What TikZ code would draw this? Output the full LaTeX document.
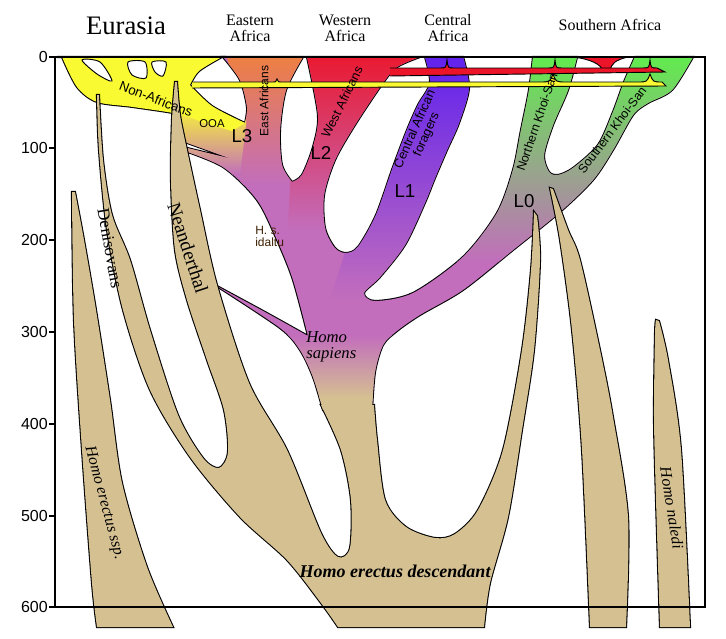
\documentclass[tikz,border=0pt]{standalone}
\usepackage{fontspec}
\setmainfont{Liberation Serif}
\setsansfont{Liberation Sans}
\definecolor{pur}{RGB}{194,110,188}
\definecolor{tanc}{RGB}{213,192,146}
\definecolor{yell}{RGB}{250,250,50}
\definecolor{orng}{RGB}{240,128,60}
\definecolor{redc}{RGB}{236,20,40}
\definecolor{blu}{RGB}{92,30,240}
\definecolor{grn}{RGB}{90,245,70}
\definecolor{idal}{RGB}{60,30,0}
\newcommand\txtsize[1]{\fontsize{#1}{#1}\selectfont}
% outlines of the populations (pixel grid, y downwards)
\def\africa{(223,57) -- (303,57)
 -- plot[smooth] coordinates {(303,57) (286,90) (280,130) (282,165) (292,182)}
 -- plot[smooth] coordinates {(292,182) (302,175) (313,147) (318,115) (307,57)}
 -- (420,57)
 -- plot[smooth] coordinates {(420,57) (397,67) (383,83) (355,125) (335,160) (324,195) (325,228) (335,248) (346,253) (358,247) (376,215) (393,167) (407,130) (418,105) (430,83) (425,57)}
 -- (463,57)
 -- plot[smooth] coordinates {(463,57) (469,88) (459,123) (447,150) (435,178) (424,205) (405,245) (380,277) (364,293) (375,301) (413,293) (463,257) (497,213) (513,170) (521,130) (529,90) (533,57)}
 -- (577,57)
 -- plot[smooth] coordinates {(577,57) (568,90) (553,125) (544,155) (549,172) (558,175) (573,168) (598,145) (613,112) (624,82) (635,57)}
 -- (693,57)
 -- plot[smooth] coordinates {(693,57) (672,90) (648,103) (633,115) (613,150) (593,180) (560,212) (513,250) (463,290) (420,315) (397,331) (383,345) (375,372) (372,410)}
 -- (323,410)
 -- plot[smooth] coordinates {(323,410) (313,377) (300,350) (280,328) (215,285)}
 -- plot[smooth] coordinates {(215,285) (265,312) (308,336)}
 -- plot[smooth] coordinates {(308,336) (293,280) (277,240) (257,200) (223,167) (179,149)}
 -- (179,146) -- (232,159) -- (179,140) -- (179,112) -- (215,114) -- (245,123)
 -- plot[smooth] coordinates {(245,123) (247,107) (240,80) (223,57)}
 -- cycle}
\def\nonafr{(57,57) -- (222,57)
 -- plot[smooth] coordinates {(222,57) (199,71) (190,85)}
 -- plot[smooth] coordinates {(190,85) (212,106) (245,123)}
 -- (232,131)
 -- plot[smooth] coordinates {(205,123) (178,114) (133,107) (97,102) (77,87) (62,57)}
 -- cycle}
\def\hedesc{(338,627)
 -- plot[smooth] coordinates {(338,627) (321,603) (287,560) (240,517) (190,457) (150,390) (123,310) (107,230) (99,150) (97,95)}
 -- plot[smooth] coordinates {(99,95) (103,160) (112,215) (130,260) (150,330) (178,415) (203,458) (219,468) (228,452) (224,410) (207,360) (187,300) (175,250) (171,180) (172,120) (175,82)}
 -- plot[smooth] coordinates {(177,82) (180,115) (187,150) (200,210) (217,285) (249,383) (287,450) (321,533) (338,557) (350,548) (351,500) (341,450) (321,405)}
 -- plot[smooth] coordinates {(374,405) (377,440) (385,500) (406,527) (435,538) (455,534) (478,510) (503,450) (522,350) (531,270) (534,212)}
 -- plot[smooth] coordinates {(537,216) (540,260) (534,350) (522,430) (508,517) (490,583) (484,627)}
 -- cycle}
\def\hessp{(97,627) -- plot[smooth] coordinates {(97,627) (92,583) (82,450) (74,320) (72,192)}
 -- plot[smooth] coordinates {(75,192) (84,240) (96,310) (110,400) (122,483) (147,567) (173,627)} -- cycle}
\def\southsp{(590,627) -- plot[smooth] coordinates {(590,627) (582,450) (572,330) (560,240) (550,188)}
 -- plot[smooth] coordinates {(553,189) (568,230) (580,260) (600,350) (613,417) (628,517) (626,627)} -- cycle}
\def\naledi{(660,627) -- plot[smooth] coordinates {(660,627) (656,500) (654,417) (655,335) (656,320)}
 -- plot[smooth] coordinates {(659,321) (668,360) (681,450) (690,627)} -- cycle}
\begin{document}
\begin{tikzpicture}[x=0.75pt,y=-0.75pt]
	\tikzstyle{outl} = [draw=black, line width=1.6pt]
	\tikzstyle{thin} = [draw=black, line width=0.7pt]
	\tikzstyle{sans} = [font=\sffamily, inner sep=0]
	\tikzstyle{serif} = [font=\rmfamily, inner sep=0]
	\useasboundingbox (0,0) rectangle (726,639);
% Africa and Eurasia
\path [outl] \africa;
\path [outl] \nonafr;
\begin{scope}
\clip \africa;
\fill [pur] (0,0) rectangle (726,450);
\shade [top color=orng, bottom color=pur] (225,50) -- (305,50) -- (290,185) -- (240,185) -- (245,125) -- cycle;
\shade [top color=yell, bottom color=pur] (170,105) -- (246,105) -- (246,125) -- (240,175) -- (170,175) -- cycle;
\shade [top color=redc, bottom color=pur] (305,45) -- (432,45) -- (405,80) -- (362,140) -- (352,230) -- (288,230) -- (290,185) -- cycle;
\shade [top color=blu, bottom color=pur] (432,45) -- (500,45) -- (490,150) -- (440,250) -- (385,300) -- (330,300) -- (352,230) -- (362,140) -- (405,80) -- cycle;
\shade [top color=grn, bottom color=pur] (500,40) -- (720,40) -- (720,262) -- (430,262) -- (440,250) -- (490,150) -- cycle;
\shade [top color=pur, bottom color=tanc] (280,335) rectangle (400,398);
\end{scope}
\fill [yell] \nonafr;
\path [thin, fill=white] plot[smooth cycle] coordinates {(82,60) (100,62) (112,81) (97,74)};
\path [thin, fill=white] plot[smooth cycle] coordinates {(128,62) (145,62) (146,78) (132,75)};
\path [thin, fill=white] plot[smooth cycle] coordinates {(152,62) (166,62) (163,76) (155,72)};
% migrations
\path [thin, fill=redc] (573,57) -- (628,57) .. controls (615,60) and (611,64) .. (610,71) -- (603,71) .. controls (601,64) and (590,59) .. (573,57) -- cycle;
\fill [redc] (390,68) -- (440,68) .. controls (446,68) .. (447,60) .. controls (448,68) .. (454,68) -- (548,68) .. controls (554,68) .. (555,60) .. controls (556,68) .. (562,68) -- (643,68) .. controls (649,68) .. (650,60) .. controls (651,68) .. (657,68) -- (665,72) -- (390,76) -- cycle;
\draw [thin] (390,68) -- (440,68) .. controls (446,68) .. (447,60) .. controls (448,68) .. (454,68) -- (548,68) .. controls (554,68) .. (555,60) .. controls (556,68) .. (562,68) -- (643,68) .. controls (649,68) .. (650,60) .. controls (651,68) .. (657,68) -- (665,72) -- (390,76);
\fill [yell] (192,82) -- (272,82) .. controls (276,82) .. (277,79) .. controls (278,82) .. (282,82) -- (540,82) .. controls (550,82) .. (553,74) .. controls (556,82) .. (566,82) -- (638,82) .. controls (647,82) .. (650,74) .. controls (653,82) .. (662,82) -- (666,86) -- (192,88) -- cycle;
\draw [thin] (192,82) -- (272,82) .. controls (276,82) .. (277,79) .. controls (278,82) .. (282,82) -- (540,82) .. controls (550,82) .. (553,74) .. controls (556,82) .. (566,82) -- (638,82) .. controls (647,82) .. (650,74) .. controls (653,82) .. (662,82) -- (666,86) -- (192,88);
% archaic lineages
\path [outl] \hedesc;
\path [outl] \hessp;
\path [outl] \southsp;
\path [outl] \naledi;
\fill [tanc] \hedesc;
\fill [tanc] \hessp;
\fill [tanc] \southsp;
\fill [tanc] \naledi;
\begin{scope}
\clip \africa;
\fill [tanc] (300,396) rectangle (400,414);
\end{scope}
% frame and axis
\draw [line width=0.9pt] (55,57) -- (705,57) -- (705,607) -- (55,607) -- cycle;
\foreach \v/\y in {0/57,100/148,200/240,300/332,400/424,500/516,600/607}
  \draw [line width=0.9pt] (49,\y) -- (55,\y) node [sans, left=5pt, font=\sffamily\txtsize{12}] (tick\v) {\v};
% regions
\node [serif, font=\rmfamily\txtsize{20}] (eurasia) at (126,26) {Eurasia};
\node [serif, font=\rmfamily\txtsize{12}, align=center] (eastaf) at (250,28) {Eastern\\Africa};
\node [serif, font=\rmfamily\txtsize{12}, align=center] (westaf) at (345,28) {Western\\Africa};
\node [serif, font=\rmfamily\txtsize{12}, align=center] (centaf) at (448,28) {Central\\Africa};
\node [serif, font=\rmfamily\txtsize{12}] (southaf) at (610,25) {Southern Africa};
% populations
\node [sans, font=\sffamily\txtsize{10}, rotate=-21] (nonafr) at (156,99) {Non-Africans};
\node [sans, font=\sffamily\txtsize{8.5}] (ooa) at (212,124) {OOA};
\node [sans, font=\sffamily\txtsize{14}] (lthree) at (242,136) {L3};
\node [sans, font=\sffamily\txtsize{14}] (ltwo) at (321,153) {L2};
\node [sans, font=\sffamily\txtsize{14}] (lone) at (405,191) {L1};
\node [sans, font=\sffamily\txtsize{14}] (lzero) at (524,201) {L0};
\node [sans, font=\sffamily\txtsize{9}, rotate=90] (eastafr) at (264,101) {East Africans};
\node [sans, font=\sffamily\txtsize{9.5}, rotate=64] (westafr) at (342,102) {West Africans};
\node [sans, font=\sffamily\txtsize{9.5}, rotate=66, align=center] (centfor) at (421,132) {Central African\\foragers};
\node [sans, font=\sffamily\txtsize{9.3}, rotate=71] (northks) at (537,122) {Northern Khoi-San};
\node [sans, font=\sffamily\txtsize{9.3}, rotate=53] (southks) at (612,130) {Southern Khoi-San};
\node [sans, font=\sffamily\txtsize{9}, align=left, text=idal, anchor=north west] (idaltu) at (255,226) {H. s.\\idaltu};
\node [serif, font=\rmfamily\itshape\txtsize{12.5}, align=left, anchor=north west] (sapiens) at (306,331) {Homo\\sapiens};
\node [serif, font=\rmfamily\txtsize{13}, rotate=-80] (deniso) at (110,248) {Denisovans};
\node [serif, font=\rmfamily\txtsize{14.5}, rotate=-72] (neand) at (188,248) {Neanderthal};
\node [serif, font=\rmfamily\itshape\txtsize{12}, rotate=-75] (erssp) at (104,503) {Homo erectus ssp.};
\node [serif, font=\rmfamily\itshape\txtsize{12}, rotate=-81] (naled) at (672,508) {Homo naledi};
\node [serif, font=\rmfamily\bfseries\itshape\txtsize{13.5}] (erdesc) at (395,571) {Homo erectus descendant};
\end{tikzpicture}
\end{document}
